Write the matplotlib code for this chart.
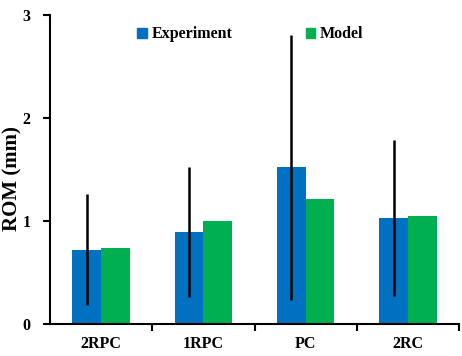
import matplotlib
matplotlib.use("Agg")
import matplotlib.pyplot as plt
import numpy as np
from matplotlib.patches import Patch

categories = ["2RPC", "1RPC", "PC", "2RC"]
experiment = [0.72, 0.89, 1.52, 1.03]
experiment_err = [0.54, 0.63, 1.29, 0.76]
model = [0.735, 0.997, 1.21, 1.05]
yticks = [0, 1, 2, 3]

plt.rcParams['font.family'] = ['Liberation Serif', 'DejaVu Serif']
plt.rcParams['font.weight'] = 'bold'

fig = plt.figure(figsize=(4.62, 3.56), dpi=100)
ax = fig.add_axes([50/462, 32/356, 409/462, 309/356])

x = np.arange(len(categories))
w = 0.28
blue = "#0070C0"
green = "#00B050"
ax.bar(x - w/2, experiment, w, color=blue, zorder=2)
ax.bar(x + w/2, model, w, color=green, zorder=2)
ax.errorbar(x - w/2, experiment, yerr=experiment_err, fmt='none',
            ecolor='black', elinewidth=1.8, capsize=0, zorder=3)

ax.set_xlim(-0.5, len(categories) - 0.5)
ax.set_ylim(0, 3)
ax.set_yticks(yticks)
ax.set_yticklabels([str(v) for v in yticks], fontsize=11.5, fontweight='bold')
ax.set_xticks(x)
ax.set_xticklabels(categories, fontsize=11.5, fontweight='bold')
ax.tick_params(axis='x', which='major', length=0, pad=9)
ax.set_xticks(np.arange(len(categories)) + 0.5, minor=True)
ax.tick_params(axis='x', which='minor', length=5, width=1.5, direction='out')
ax.tick_params(axis='y', length=5, width=1.5, direction='out', pad=9)

for s in ['top', 'right']:
    ax.spines[s].set_visible(False)
for s in ['left', 'bottom']:
    ax.spines[s].set_linewidth(1.5)

ax.set_ylabel("ROM (mm)", fontsize=15, fontweight='bold')
ax.yaxis.set_label_coords(-0.068, 0.47)

handles = [Patch(color=blue, label="Experiment"), Patch(color=green, label="Model")]
ax.legend(handles=handles, ncol=2, loc='upper center', bbox_to_anchor=(0.49, 1.01),
          frameon=False, handlelength=0.6, handleheight=0.6, handletextpad=0.3,
          columnspacing=4.6, prop={'family': 'Liberation Serif', 'weight': 'bold', 'size': 11.5})

fig.savefig("out.png", dpi=100)
